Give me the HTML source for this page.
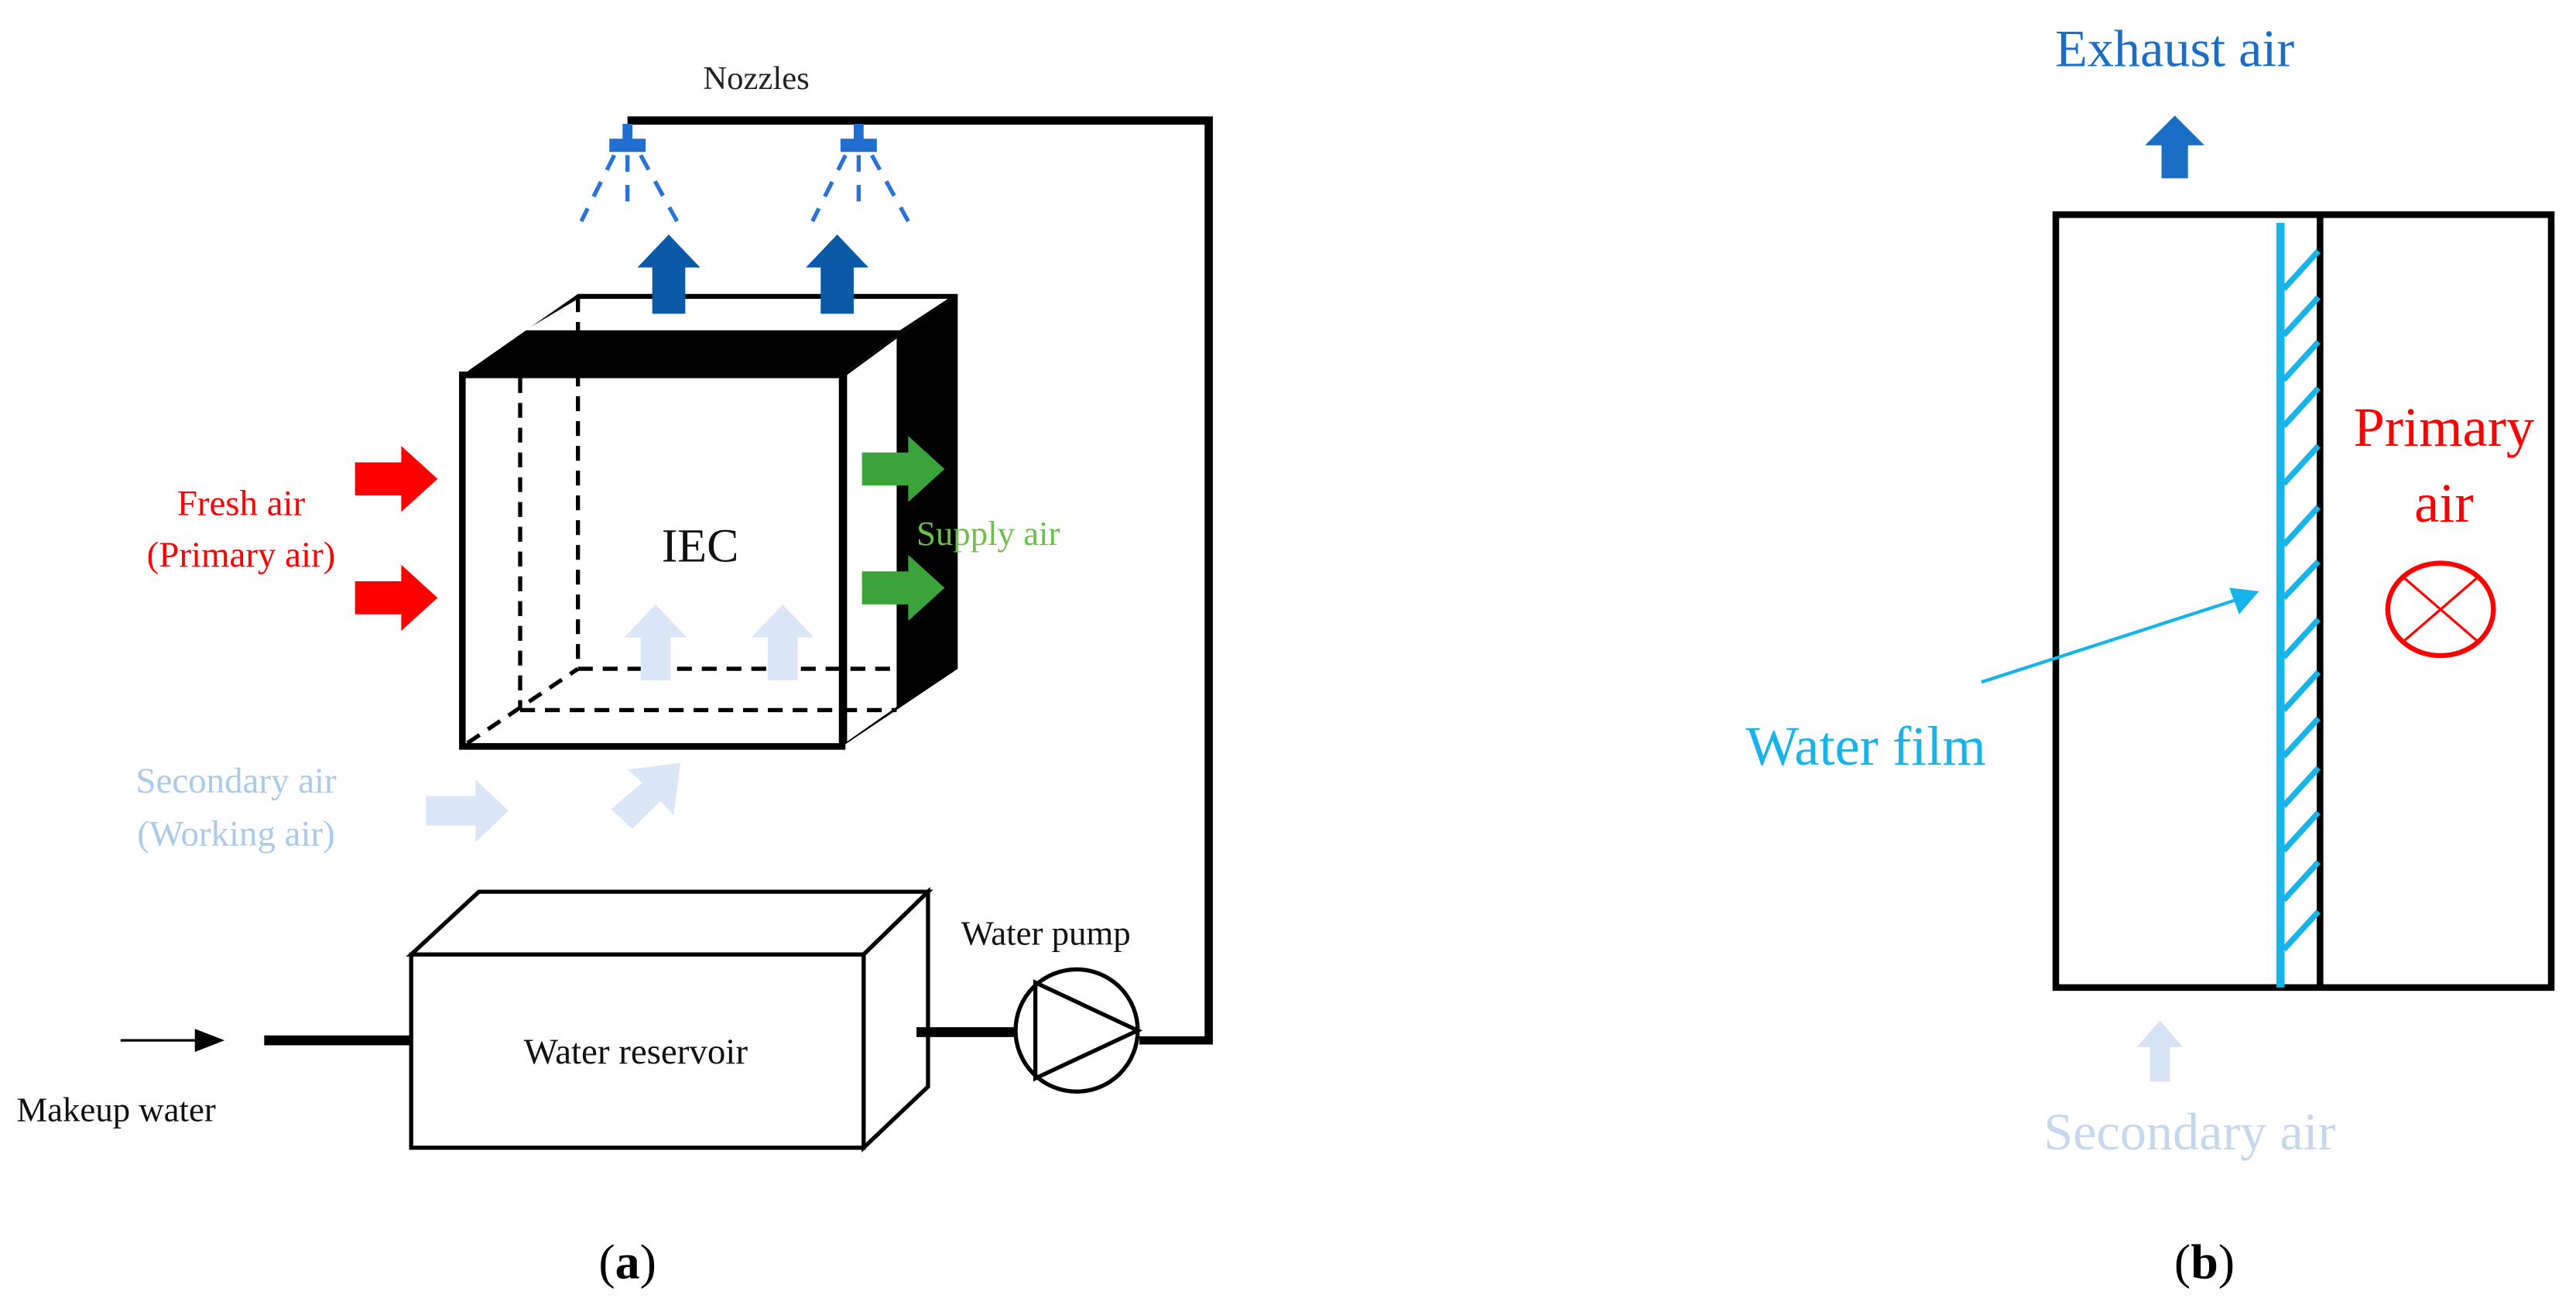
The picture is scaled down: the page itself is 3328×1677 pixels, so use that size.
<!DOCTYPE html>
<html><head><meta charset="utf-8"><style>
html,body{margin:0;padding:0;background:#fff;}
svg{display:block;}
text{font-family:"Liberation Serif",serif;}
</style></head><body>
<svg width="3328" height="1677" viewBox="0 0 1560 786" preserveAspectRatio="none" xmlns="http://www.w3.org/2000/svg">
<rect width="1560" height="786" fill="#fff"/>
<!-- Panel a -->
<text x="458" y="54" font-size="20" text-anchor="middle" fill="#222">Nozzles</text>
<!-- pipe -->
<polyline points="380,73 732,73 732,630 690,630" fill="none" stroke="#000" stroke-width="5"/>
<!-- nozzles -->
<g fill="#1f6fd0" stroke="none">
<rect x="377" y="75" width="6" height="10"/><rect x="369" y="84" width="22" height="8"/>
<rect x="517" y="75" width="6" height="10"/><rect x="509" y="84" width="22" height="8"/>
</g>
<g stroke="#2a74d6" stroke-width="2.5" stroke-dasharray="10,8" fill="none">
<line x1="380" y1="94" x2="380" y2="128"/><line x1="372" y1="94" x2="352" y2="134"/><line x1="388" y1="94" x2="410" y2="134"/>
<line x1="520" y1="94" x2="520" y2="128"/><line x1="512" y1="94" x2="492" y2="134"/><line x1="528" y1="94" x2="550" y2="134"/>
</g>
<!-- cube -->
<polygon points="280,227 350,178 580,178 510,227" fill="#000"/>
<polygon points="318,200 350,181 574,181 545,200" fill="#fff"/>
<polygon points="510,227 580,178 580,405 510,452" fill="#000"/>
<polygon points="513,227 543,205 543,428 513,449" fill="#fff"/>
<rect x="280" y="227" width="230" height="225" fill="#fff" stroke="#000" stroke-width="4"/>
<g stroke="#000" stroke-width="2.5" stroke-dasharray="9,6" fill="none">
<line x1="350" y1="180" x2="350" y2="405"/>
<line x1="315" y1="229" x2="315" y2="430"/>
<line x1="350" y1="405" x2="543" y2="405"/>
<line x1="315" y1="430" x2="543" y2="430"/>
<line x1="283" y1="450" x2="350" y2="405"/>
</g>
<!-- blue up arrows -->
<g fill="#0a5aa8">
<polygon points="395,190 415,190 415,162 424,162 405,142 386,162 395,162"/>
<polygon points="497,190 517,190 517,162 526,162 507,142 488,162 497,162"/>
</g>
<!-- light arrows inside -->
<g fill="#dbe7f6">
<polygon points="388,412 406,412 406,386 416,386 397,366 378,386 388,386"/>
<polygon points="465,412 483,412 483,386 493,386 474,366 455,386 465,386"/>
<polygon points="258,482 288,482 288,472 308,491 288,510 288,500 258,500"/>
<polygon points="370,490 383,502 400,485 408,494 412,462 380,466 389,474"/>
</g>
<!-- red arrows -->
<g fill="#f00">
<polygon points="215,280 243,280 243,270 265,290 243,310 243,300 215,300"/>
<polygon points="215,352 243,352 243,342 265,362 243,382 243,372 215,372"/>
</g>
<!-- green arrows -->
<g fill="#3aa43a">
<polygon points="522,274 550,274 550,264 572,284 550,304 550,294 522,294"/>
<polygon points="522,346 550,346 550,336 572,356 550,376 550,366 522,366"/>
</g>
<text x="146" y="312" font-size="22" text-anchor="middle" fill="#f00">Fresh air</text>
<text x="146" y="343" font-size="22" text-anchor="middle" fill="#f00">(Primary air)</text>
<text x="424" y="340" font-size="29" text-anchor="middle" fill="#111">IEC</text>
<text x="555" y="330" font-size="21" fill="#6cbf4a">Supply air</text>
<text x="143" y="480" font-size="22" text-anchor="middle" fill="#a9cbea">Secondary air</text>
<text x="143" y="512" font-size="22" text-anchor="middle" fill="#a9cbea">(Working air)</text>
<!-- reservoir -->
<polygon points="249,578 290,540 562,540 523,578" fill="#fff" stroke="#000" stroke-width="2.5"/>
<polygon points="523,578 562,540 562,658 523,695" fill="#fff" stroke="#000" stroke-width="2.5"/>
<rect x="249" y="578" width="274" height="117" fill="#fff" stroke="#000" stroke-width="2.5"/>
<text x="385" y="644" font-size="22" text-anchor="middle" fill="#111">Water reservoir</text>
<!-- makeup -->
<line x1="73" y1="630" x2="122" y2="630" stroke="#000" stroke-width="1.5"/>
<polygon points="118,623 136,630 118,637" fill="#000"/>
<line x1="160" y1="630" x2="249" y2="630" stroke="#000" stroke-width="6"/>
<text x="10" y="679" font-size="21" fill="#111">Makeup water</text>
<!-- pump -->
<line x1="555" y1="625" x2="616" y2="625" stroke="#000" stroke-width="6"/>
<circle cx="652" cy="624" r="37" fill="#fff" stroke="#000" stroke-width="2.5"/>
<polygon points="627,595 627,653 689,624" fill="none" stroke="#000" stroke-width="2.5"/>
<text x="582" y="572" font-size="21" fill="#111">Water pump</text>
<text x="380" y="774" font-size="30" text-anchor="middle" fill="#000">(<tspan font-weight="bold">a</tspan>)</text>

<!-- Panel b -->
<text x="1317" y="40" font-size="32" text-anchor="middle" fill="#1a6fc4">Exhaust air</text>
<polygon points="1309,108 1325,108 1325,88 1335,88 1317,70 1299,88 1309,88" fill="#1a6fc4"/>
<rect x="1245" y="130" width="300" height="468" fill="none" stroke="#000" stroke-width="4"/>
<line x1="1405" y1="130" x2="1405" y2="598" stroke="#000" stroke-width="4"/>
<line x1="1381" y1="135" x2="1381" y2="598" stroke="#16b4e8" stroke-width="5"/>
<g stroke="#16b4e8" stroke-width="3.5">
<line x1="1383" y1="175" x2="1404" y2="152"/><line x1="1383" y1="203" x2="1404" y2="180"/>
<line x1="1383" y1="230" x2="1404" y2="207"/><line x1="1383" y1="258" x2="1404" y2="235"/>
<line x1="1383" y1="293" x2="1404" y2="270"/><line x1="1383" y1="330" x2="1404" y2="307"/>
<line x1="1383" y1="362" x2="1404" y2="340"/><line x1="1383" y1="398" x2="1404" y2="375"/>
<line x1="1383" y1="430" x2="1404" y2="407"/><line x1="1383" y1="458" x2="1404" y2="435"/>
<line x1="1383" y1="488" x2="1404" y2="465"/><line x1="1383" y1="515" x2="1404" y2="492"/>
<line x1="1383" y1="545" x2="1404" y2="522"/><line x1="1383" y1="575" x2="1404" y2="552"/>
</g>
<text x="1480" y="270" font-size="34" text-anchor="middle" fill="#f00">Primary</text>
<text x="1480" y="316" font-size="34" text-anchor="middle" fill="#f00">air</text>
<ellipse cx="1478" cy="369" rx="32" ry="28" fill="none" stroke="#f00" stroke-width="3"/>
<line x1="1456" y1="350" x2="1500" y2="388" stroke="#f00" stroke-width="1.5"/>
<line x1="1500" y1="350" x2="1456" y2="388" stroke="#f00" stroke-width="1.5"/>
<line x1="1200" y1="413" x2="1355" y2="363" stroke="#16b4e8" stroke-width="2"/>
<polygon points="1368,358 1350,356 1356,372" fill="#16b4e8"/>
<text x="1130" y="463" font-size="34" text-anchor="middle" fill="#16b4e8">Water film</text>
<polygon points="1302,655 1314,655 1314,634 1322,634 1308,618 1294,634 1302,634" fill="#d5e3f4"/>
<text x="1326" y="696" font-size="32" text-anchor="middle" fill="#c5d8ee">Secondary air</text>
<text x="1335" y="774" font-size="30" text-anchor="middle" fill="#000">(<tspan font-weight="bold">b</tspan>)</text>
</svg>
</body></html>
